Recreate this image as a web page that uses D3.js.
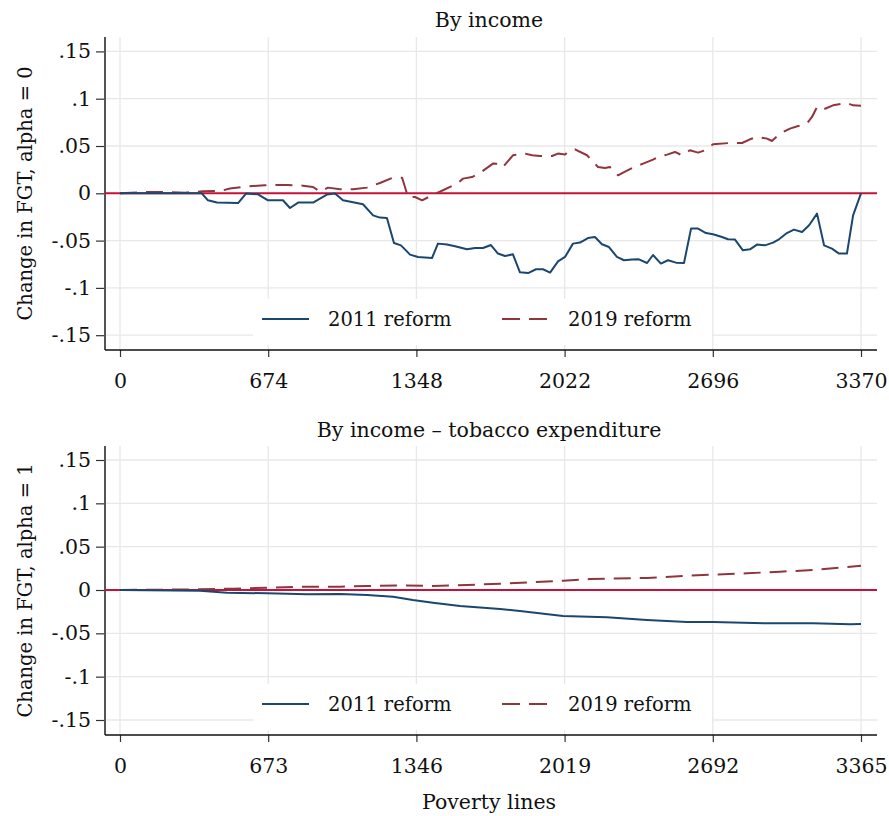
<!DOCTYPE html>
<html>
<head>
<meta charset="utf-8">
<script src="https://cdn.jsdelivr.net/npm/d3@7"></script>
<style>
  html, body { margin: 0; padding: 0; background: #fff; }
  svg text { font-family: "DejaVu Serif", serif; fill: #111; }
</style>
</head>
<body>
<svg id="chart" width="889" height="816"></svg>
<script>
// ---- Panel 1: by income, alpha = 0 ----
const linesTop = [0, 127, 205, 296, 372, 400, 441, 537, 573, 628, 673, 741, 773, 810, 878, 941, 978, 1014, 1060, 1105, 1151, 1182, 1214, 1246, 1278, 1319, 1355, 1419, 1446, 1487, 1524, 1578, 1615, 1651, 1687, 1719, 1751, 1787, 1819, 1856, 1892, 1924, 1956, 1992, 2024, 2060, 2092, 2128, 2160, 2192, 2224, 2260, 2292, 2329, 2360, 2397, 2424, 2460, 2492, 2529, 2565, 2597, 2629, 2665, 2697, 2738, 2765, 2797, 2833, 2865, 2897, 2933, 2970, 2997, 3033, 3065, 3102, 3134, 3170, 3202, 3238, 3270, 3306, 3334, 3370];
const reform2011Top = [0, 0, 0, 0, 0, -0.0074, -0.0098, -0.0103, -0.0003, -0.0011, -0.0074, -0.0074, -0.0155, -0.0098, -0.0098, -0.0014, -0.0003, -0.0074, -0.0095, -0.0116, -0.0233, -0.0257, -0.0261, -0.0525, -0.055, -0.0648, -0.0673, -0.0684, -0.0532, -0.0542, -0.056, -0.0592, -0.0578, -0.0578, -0.0547, -0.0637, -0.0663, -0.0645, -0.0835, -0.0843, -0.0803, -0.0803, -0.0838, -0.0719, -0.0673, -0.0532, -0.0521, -0.0473, -0.0462, -0.0539, -0.0568, -0.0673, -0.0708, -0.0701, -0.0698, -0.0737, -0.0652, -0.0743, -0.0708, -0.0733, -0.0737, -0.0373, -0.0373, -0.042, -0.0433, -0.0462, -0.0486, -0.0489, -0.0603, -0.0592, -0.0542, -0.055, -0.0521, -0.0486, -0.042, -0.0384, -0.0409, -0.0338, -0.0215, -0.055, -0.0585, -0.0637, -0.0637, -0.0233, 0];

const linesTop2019 = [0, 127, 205, 296, 377, 455, 500, 578, 659, 760, 832, 878, 910, 946, 1001, 1060, 1123, 1182, 1237, 1283, 1310, 1342, 1374, 1419, 1469, 1533, 1560, 1601, 1637, 1696, 1728, 1742, 1787, 1842, 1874, 1910, 1965, 1992, 2024, 2033, 2069, 2124, 2138, 2174, 2206, 2228, 2242, 2265, 2288, 2333, 2379, 2424, 2447, 2488, 2524, 2556, 2592, 2629, 2661, 2697, 2774, 2829, 2865, 2897, 2943, 2965, 3002, 3047, 3084, 3124, 3147, 3170, 3197, 3243, 3306, 3334, 3370];
const reform2019Top = [0, 0.0014, 0.0014, 0.0007, 0.0021, 0.0024, 0.005, 0.0074, 0.0085, 0.0088, 0.0081, 0.0067, 0.0016, 0.006, 0.0042, 0.0042, 0.006, 0.0109, 0.0162, 0.0164, -0.0039, -0.0039, -0.0074, -0.0021, 0.0032, 0.0103, 0.0155, 0.0172, 0.0215, 0.0314, 0.0312, 0.0278, 0.0402, 0.042, 0.0402, 0.0394, 0.0394, 0.042, 0.0409, 0.043, 0.0465, 0.0402, 0.0367, 0.0278, 0.0267, 0.0278, 0.0243, 0.019, 0.0219, 0.0272, 0.0314, 0.0356, 0.0384, 0.0409, 0.0437, 0.0402, 0.0455, 0.043, 0.0455, 0.0518, 0.0532, 0.0532, 0.0571, 0.0595, 0.0578, 0.0553, 0.0631, 0.0684, 0.0711, 0.0737, 0.0807, 0.0912, 0.0885, 0.093, 0.0955, 0.093, 0.0925];

const xTicksTop = [0, 674, 1348, 2022, 2696, 3370];

// ---- Panel 2: by income minus tobacco expenditure, alpha = 1 ----
const linesBottom = [0, 363, 486, 668, 849, 999, 1122, 1240, 1330, 1421, 1544, 1726, 1816, 2012, 2211, 2393, 2575, 2693, 2938, 3147, 3315, 3365];
const reform2011Bottom = [0, -0.0008, -0.0031, -0.0038, -0.005, -0.0046, -0.0058, -0.0077, -0.0115, -0.0147, -0.0185, -0.0219, -0.0242, -0.03, -0.0315, -0.0346, -0.0369, -0.0369, -0.0385, -0.0385, -0.0396, -0.0393];

const linesBottom2019 = [0, 363, 513, 668, 817, 999, 1122, 1272, 1421, 1576, 1726, 2012, 2134, 2393, 2575, 2693, 2847, 2997, 3147, 3270, 3365];
const reform2019Bottom = [0, 0.0008, 0.0015, 0.0027, 0.0038, 0.0038, 0.0046, 0.0054, 0.0046, 0.0058, 0.0073, 0.0107, 0.0127, 0.0139, 0.0165, 0.0177, 0.0193, 0.0211, 0.0231, 0.0258, 0.0281];

const xTicksBottom = [0, 673, 1346, 2019, 2692, 3365];

const yTicks = [0.15, 0.1, 0.05, 0, -0.05, -0.1, -0.15];
const yTickLabels = [".15", ".1", ".05", "0", "-.05", "-.1", "-.15"];
const seriesNames = ["2011 reform", "2019 reform"];

const colors = { s2011: "#1a476f", s2019: "#90353b", zero: "#c8103a", grid: "#e8e8e8" };
const FONT = 20.5;      // titles and tick labels
const FONT_LEG = 19.5;  // legend entries
const FONT_YT = 19.5;   // rotated axis titles

const svg = d3.select("#chart");

function panel(opt) {
  const g = svg.append("g");
  const x = d3.scaleLinear().domain([0, opt.xMax]).range([120, 861]);
  const y = d3.scaleLinear().domain([-0.15, 0.15]).range([opt.yBottom, opt.yTop]);
  const left = 105, right = 877;

  // gridlines
  g.append("g").selectAll("line.h").data(yTicks).join("line")
    .attr("x1", left).attr("x2", right)
    .attr("y1", d => y(d)).attr("y2", d => y(d))
    .attr("stroke", colors.grid).attr("stroke-width", 1.3);
  g.append("g").selectAll("line.v").data(opt.xTicks).join("line")
    .attr("x1", d => x(d)).attr("x2", d => x(d))
    .attr("y1", opt.plotTop).attr("y2", opt.axisY)
    .attr("stroke", colors.grid).attr("stroke-width", 1.3);

  // title
  g.append("text").attr("x", 489).attr("y", opt.titleY)
    .attr("text-anchor", "middle").attr("font-size", FONT).text(opt.title);

  // y axis
  const yAxis = d3.axisLeft(y).tickValues(yTicks)
    .tickFormat((d, i) => yTickLabels[i]).tickSize(9).tickPadding(5);
  const ya = g.append("g").attr("transform", `translate(${left},0)`).call(yAxis);
  ya.select(".domain").remove();
  ya.selectAll(".tick line").attr("stroke", "#333").attr("stroke-width", 1.2);
  ya.selectAll(".tick text").attr("font-size", FONT).attr("font-family", "DejaVu Serif").attr("fill", "#111");
  g.append("line").attr("x1", left).attr("x2", left)
    .attr("y1", opt.plotTop).attr("y2", opt.axisY)
    .attr("stroke", "#555").attr("stroke-width", 2);

  // x axis
  const xAxis = d3.axisBottom(x).tickValues(opt.xTicks).tickFormat(d3.format("d"))
    .tickSize(7).tickPadding(16);
  const xa = g.append("g").attr("transform", `translate(0,${opt.axisY})`).call(xAxis);
  xa.select(".domain").remove();
  xa.selectAll(".tick line").attr("stroke", "#333").attr("stroke-width", 1.2);
  xa.selectAll(".tick text").attr("font-size", FONT).attr("font-family", "DejaVu Serif").attr("fill", "#111");
  g.append("line").attr("x1", left).attr("x2", right)
    .attr("y1", opt.axisY).attr("y2", opt.axisY)
    .attr("stroke", "#111").attr("stroke-width", 1.3);

  // y title
  g.append("text")
    .attr("transform", `translate(32,${(opt.plotTop + opt.axisY) / 2}) rotate(-90)`)
    .attr("text-anchor", "middle").attr("font-size", FONT_YT).text(opt.yTitle);

  // reference line at zero
  g.append("line").attr("x1", left).attr("x2", right)
    .attr("y1", y(0)).attr("y2", y(0))
    .attr("stroke", colors.zero).attr("stroke-width", 2);

  const line = d3.line().x(d => x(d[0])).y(d => y(d[1]));
  const d2019 = opt.x2019.map((v, i) => [v, opt.v2019[i]]);
  const d2011 = opt.x2011.map((v, i) => [v, opt.v2011[i]]);

  g.append("path").datum(d2019).attr("d", line)
    .attr("fill", "none").attr("stroke", colors.s2019).attr("stroke-width", 2)
    .attr("stroke-dasharray", "17,9").attr("stroke-linejoin", "round");
  g.append("path").datum(d2011).attr("d", line)
    .attr("fill", "none").attr("stroke", colors.s2011).attr("stroke-width", 2)
    .attr("stroke-linejoin", "round");

  // legend
  const ly = opt.axisY - 27;
  const lg = g.append("g");
  lg.append("rect").attr("x", 253).attr("y", ly - 24).attr("width", 459).attr("height", 46).attr("fill", "#fff");
  lg.append("line").attr("x1", 262).attr("x2", 309).attr("y1", ly - 4).attr("y2", ly - 4)
    .attr("stroke", colors.s2011).attr("stroke-width", 2);
  lg.append("text").attr("x", 328).attr("y", ly + 3).attr("font-size", FONT_LEG).text(seriesNames[0]);
  lg.append("line").attr("x1", 502).attr("x2", 547).attr("y1", ly - 4).attr("y2", ly - 4)
    .attr("stroke", colors.s2019).attr("stroke-width", 2).attr("stroke-dasharray", "18,9");
  lg.append("text").attr("x", 568).attr("y", ly + 3).attr("font-size", FONT_LEG).text(seriesNames[1]);
}

panel({
  title: "By income", titleY: 27, yTitle: "Change in FGT, alpha = 0",
  xMax: 3370, xTicks: xTicksTop, plotTop: 37, axisY: 350, yTop: 51.4, yBottom: 335.2,
  x2011: linesTop, v2011: reform2011Top, x2019: linesTop2019, v2019: reform2019Top
});
panel({
  title: "By income \u2013 tobacco expenditure", titleY: 437, yTitle: "Change in FGT, alpha = 1",
  xMax: 3365, xTicks: xTicksBottom, plotTop: 446, axisY: 735, yTop: 460, yBottom: 720,
  x2011: linesBottom, v2011: reform2011Bottom, x2019: linesBottom2019, v2019: reform2019Bottom
});

svg.append("text").attr("x", 489).attr("y", 809).attr("text-anchor", "middle")
  .attr("font-size", FONT).text("Poverty lines");
</script>
</body>
</html>
